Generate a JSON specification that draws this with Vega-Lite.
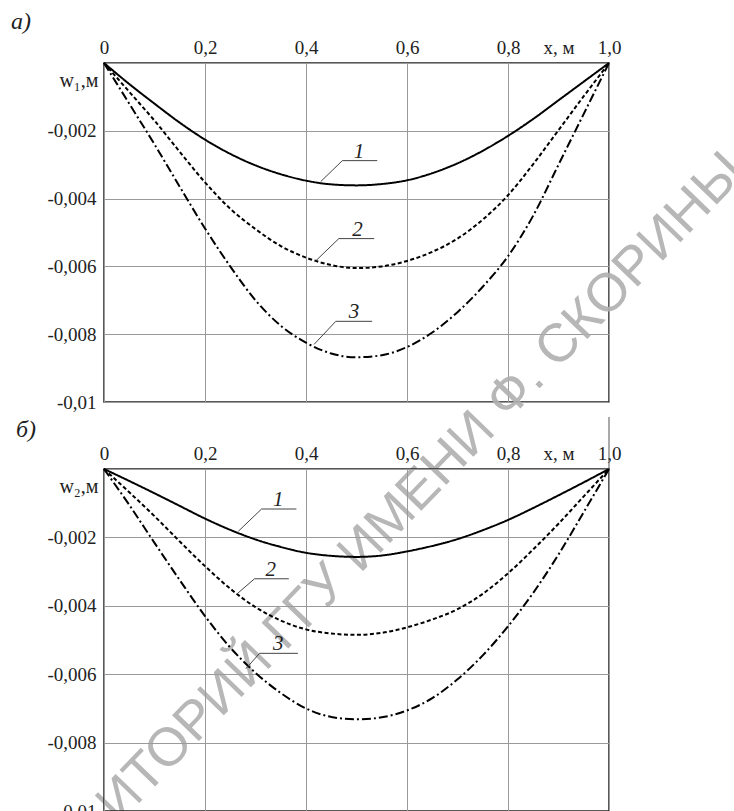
{
  "$schema": "https://vega.github.io/schema/vega-lite/v6.json",
  "padding": {"left": 10, "top": 9, "right": 0, "bottom": 0},
  "background": "white",
  "bounds": "flush",
  "spacing": 67,
  "config": {
    "font": "Liberation Serif",
    "view": {"stroke": "#222", "strokeWidth": 1.5},
    "axis": {
      "labelFont": "Liberation Serif",
      "labelFontSize": 19,
      "labelColor": "#222",
      "ticks": false,
      "domain": false,
      "gridColor": "#9a9a9a",
      "gridWidth": 1,
      "labelFlush": false,
      "labelOverlap": false
    },
    "title": {"font": "Liberation Serif", "fontSize": 24, "fontStyle": "italic", "fontWeight": "normal", "color": "#222"}
  },
  "datasets": {
    "ca": [
      {"c": 1, "x": 0, "w": 0}, {"c": 1, "x": 0.05, "w": -0.00062}, {"c": 1, "x": 0.1, "w": -0.0012}, {"c": 1, "x": 0.15, "w": -0.00176}, {"c": 1, "x": 0.2, "w": -0.00226}, {"c": 1, "x": 0.25, "w": -0.00268}, {"c": 1, "x": 0.3, "w": -0.00302}, {"c": 1, "x": 0.35, "w": -0.00328}, {"c": 1, "x": 0.4, "w": -0.00347}, {"c": 1, "x": 0.45, "w": -0.00358}, {"c": 1, "x": 0.5, "w": -0.00361}, {"c": 1, "x": 0.55, "w": -0.00357}, {"c": 1, "x": 0.6, "w": -0.00346}, {"c": 1, "x": 0.65, "w": -0.00325}, {"c": 1, "x": 0.7, "w": -0.00296}, {"c": 1, "x": 0.75, "w": -0.00259}, {"c": 1, "x": 0.8, "w": -0.00215}, {"c": 1, "x": 0.85, "w": -0.00165}, {"c": 1, "x": 0.9, "w": -0.0011}, {"c": 1, "x": 0.95, "w": -0.00055}, {"c": 1, "x": 1, "w": 0},
      {"c": 2, "x": 0, "w": 0}, {"c": 2, "x": 0.05, "w": -0.00085}, {"c": 2, "x": 0.1, "w": -0.0017}, {"c": 2, "x": 0.15, "w": -0.00262}, {"c": 2, "x": 0.2, "w": -0.00352}, {"c": 2, "x": 0.25, "w": -0.0043}, {"c": 2, "x": 0.3, "w": -0.0049}, {"c": 2, "x": 0.35, "w": -0.0054}, {"c": 2, "x": 0.4, "w": -0.00574}, {"c": 2, "x": 0.45, "w": -0.00596}, {"c": 2, "x": 0.5, "w": -0.00605}, {"c": 2, "x": 0.55, "w": -0.006}, {"c": 2, "x": 0.6, "w": -0.00584}, {"c": 2, "x": 0.65, "w": -0.00557}, {"c": 2, "x": 0.7, "w": -0.00518}, {"c": 2, "x": 0.75, "w": -0.00462}, {"c": 2, "x": 0.8, "w": -0.0039}, {"c": 2, "x": 0.85, "w": -0.00298}, {"c": 2, "x": 0.9, "w": -0.00198}, {"c": 2, "x": 0.95, "w": -0.00098}, {"c": 2, "x": 1, "w": 0},
      {"c": 3, "x": 0, "w": 0}, {"c": 3, "x": 0.05, "w": -0.0012}, {"c": 3, "x": 0.1, "w": -0.0024}, {"c": 3, "x": 0.15, "w": -0.00365}, {"c": 3, "x": 0.2, "w": -0.00488}, {"c": 3, "x": 0.25, "w": -0.006}, {"c": 3, "x": 0.3, "w": -0.007}, {"c": 3, "x": 0.35, "w": -0.00775}, {"c": 3, "x": 0.4, "w": -0.00825}, {"c": 3, "x": 0.45, "w": -0.00857}, {"c": 3, "x": 0.5, "w": -0.00868}, {"c": 3, "x": 0.55, "w": -0.00862}, {"c": 3, "x": 0.6, "w": -0.00838}, {"c": 3, "x": 0.65, "w": -0.00795}, {"c": 3, "x": 0.7, "w": -0.00735}, {"c": 3, "x": 0.75, "w": -0.0066}, {"c": 3, "x": 0.8, "w": -0.0057}, {"c": 3, "x": 0.85, "w": -0.0045}, {"c": 3, "x": 0.9, "w": -0.003}, {"c": 3, "x": 0.95, "w": -0.0015}, {"c": 3, "x": 1, "w": 0}
    ],
    "cb": [
      {"c": 1, "x": 0, "w": 0}, {"c": 1, "x": 0.05, "w": -0.00035}, {"c": 1, "x": 0.1, "w": -0.00071}, {"c": 1, "x": 0.15, "w": -0.00108}, {"c": 1, "x": 0.2, "w": -0.00145}, {"c": 1, "x": 0.25, "w": -0.00178}, {"c": 1, "x": 0.3, "w": -0.00206}, {"c": 1, "x": 0.35, "w": -0.00228}, {"c": 1, "x": 0.4, "w": -0.00245}, {"c": 1, "x": 0.45, "w": -0.00254}, {"c": 1, "x": 0.5, "w": -0.00257}, {"c": 1, "x": 0.55, "w": -0.00253}, {"c": 1, "x": 0.6, "w": -0.00241}, {"c": 1, "x": 0.65, "w": -0.00225}, {"c": 1, "x": 0.7, "w": -0.00205}, {"c": 1, "x": 0.75, "w": -0.00179}, {"c": 1, "x": 0.8, "w": -0.00149}, {"c": 1, "x": 0.85, "w": -0.00114}, {"c": 1, "x": 0.9, "w": -0.00077}, {"c": 1, "x": 0.95, "w": -0.00039}, {"c": 1, "x": 1, "w": 0},
      {"c": 2, "x": 0, "w": 0}, {"c": 2, "x": 0.05, "w": -0.00068}, {"c": 2, "x": 0.1, "w": -0.00138}, {"c": 2, "x": 0.15, "w": -0.00212}, {"c": 2, "x": 0.2, "w": -0.00284}, {"c": 2, "x": 0.25, "w": -0.0035}, {"c": 2, "x": 0.3, "w": -0.00404}, {"c": 2, "x": 0.35, "w": -0.00443}, {"c": 2, "x": 0.4, "w": -0.00469}, {"c": 2, "x": 0.45, "w": -0.00481}, {"c": 2, "x": 0.5, "w": -0.00485}, {"c": 2, "x": 0.55, "w": -0.00479}, {"c": 2, "x": 0.6, "w": -0.00463}, {"c": 2, "x": 0.65, "w": -0.0044}, {"c": 2, "x": 0.7, "w": -0.0041}, {"c": 2, "x": 0.75, "w": -0.00365}, {"c": 2, "x": 0.8, "w": -0.00305}, {"c": 2, "x": 0.85, "w": -0.00235}, {"c": 2, "x": 0.9, "w": -0.0016}, {"c": 2, "x": 0.95, "w": -0.0008}, {"c": 2, "x": 1, "w": 0},
      {"c": 3, "x": 0, "w": 0}, {"c": 3, "x": 0.05, "w": -0.00105}, {"c": 3, "x": 0.1, "w": -0.00216}, {"c": 3, "x": 0.15, "w": -0.00325}, {"c": 3, "x": 0.2, "w": -0.0043}, {"c": 3, "x": 0.25, "w": -0.00522}, {"c": 3, "x": 0.3, "w": -0.00596}, {"c": 3, "x": 0.35, "w": -0.00655}, {"c": 3, "x": 0.4, "w": -0.007}, {"c": 3, "x": 0.45, "w": -0.00725}, {"c": 3, "x": 0.5, "w": -0.00732}, {"c": 3, "x": 0.55, "w": -0.00726}, {"c": 3, "x": 0.6, "w": -0.00706}, {"c": 3, "x": 0.65, "w": -0.0067}, {"c": 3, "x": 0.7, "w": -0.00615}, {"c": 3, "x": 0.75, "w": -0.00545}, {"c": 3, "x": 0.8, "w": -0.0046}, {"c": 3, "x": 0.85, "w": -0.00362}, {"c": 3, "x": 0.9, "w": -0.0025}, {"c": 3, "x": 0.95, "w": -0.00126}, {"c": 3, "x": 1, "w": 0}
    ],
    "la": [
      {"c": 1, "o": 1, "x": 0.429, "w": -0.0035}, {"c": 1, "o": 2, "x": 0.472, "w": -0.00288}, {"c": 1, "o": 3, "x": 0.541, "w": -0.00288},
      {"c": 2, "o": 1, "x": 0.419, "w": -0.00584}, {"c": 2, "o": 2, "x": 0.465, "w": -0.00518}, {"c": 2, "o": 3, "x": 0.535, "w": -0.00518},
      {"c": 3, "o": 1, "x": 0.416, "w": -0.0083}, {"c": 3, "o": 2, "x": 0.459, "w": -0.00762}, {"c": 3, "o": 3, "x": 0.531, "w": -0.00762}
    ],
    "lb": [
      {"c": 1, "o": 1, "x": 0.266, "w": -0.00182}, {"c": 1, "o": 2, "x": 0.312, "w": -0.00117}, {"c": 1, "o": 3, "x": 0.381, "w": -0.00117},
      {"c": 2, "o": 1, "x": 0.262, "w": -0.00367}, {"c": 2, "o": 2, "x": 0.298, "w": -0.00321}, {"c": 2, "o": 3, "x": 0.366, "w": -0.00321},
      {"c": 3, "o": 1, "x": 0.281, "w": -0.00584}, {"c": 3, "o": 2, "x": 0.308, "w": -0.00539}, {"c": 3, "o": 3, "x": 0.384, "w": -0.00539}
    ],
    "ta": [
      {"t": "1", "x": 0.505, "w": -0.00288}, {"t": "2", "x": 0.502, "w": -0.00518}, {"t": "3", "x": 0.495, "w": -0.00762}
    ],
    "tb": [
      {"t": "1", "x": 0.345, "w": -0.00117}, {"t": "2", "x": 0.33, "w": -0.00321}, {"t": "3", "x": 0.345, "w": -0.00539}
    ],
    "wm": [
      {"t": "ИТОРИЙ ГГУ ИМЕНИ Ф. СКОРИНЫ", "x": 0.651, "w": -0.01286}
    ],
    "edge": [
      {"x": 1, "w": 0, "w2": 0.00152}
    ]
  },
  "vconcat": [
    {
      "width": 505,
      "height": 339,
      "title": {"text": "а)", "anchor": "start", "frame": "group", "dx": -93, "offset": 4},
      "encoding": {
        "x": {"field": "x", "type": "quantitative", "scale": {"domain": [0, 1], "nice": false},
          "axis": {"orient": "top", "title": null, "values": [0, 0.2, 0.4, 0.6, 0.8, 0.9, 1], "labelPadding": 6,
            "labelExpr": "datum.value == 0.9 ? 'x, м' : (datum.value == 0 ? '0' : replace(format(datum.value, '.1f'), '.', ','))",
            "gridOpacity": {"condition": {"test": "datum.value == 0.9", "value": 0}, "value": 1}}},
        "y": {"field": "w", "type": "quantitative", "scale": {"domain": [-0.01, 0], "nice": false},
          "axis": {"values": [0, -0.002, -0.004, -0.006, -0.008, -0.01], "labelPadding": 8,
            "labelExpr": "datum.value == 0 ? '' : replace(toString(datum.value), '.', ',')",
            "title": "w₁,м", "titleAngle": 0, "titleAlign": "right", "titleBaseline": "middle", "titleX": -6, "titleY": 17,
            "titleFont": "Liberation Serif", "titleFontSize": 20, "titleFontWeight": "normal", "titleColor": "#222"}}
      },
      "layer": [
        {"data": {"name": "ca"}, "mark": {"type": "line", "color": "black", "strokeWidth": 2, "interpolate": "monotone"},
          "encoding": {"detail": {"field": "c"}, "strokeDash": {"field": "c", "type": "nominal", "legend": null,
            "scale": {"domain": [1, 2, 3], "range": [[1, 0], [4, 2.5], [9, 3, 2, 3]]}}}},
        {"data": {"name": "la"}, "mark": {"type": "line", "color": "#444", "strokeWidth": 1},
          "encoding": {"detail": {"field": "c"}, "order": {"field": "o"}}},
        {"data": {"name": "ta"}, "mark": {"type": "text", "font": "Liberation Serif", "fontSize": 21, "fontStyle": "italic", "baseline": "alphabetic", "dy": -3, "color": "#222"},
          "encoding": {"text": {"field": "t"}}},
        {"data": {"name": "wm"}, "mark": {"type": "text", "font": "Liberation Sans", "fontSize": 54, "angle": -46, "align": "center", "baseline": "alphabetic", "color": "#b0b0b0", "opacity": 0.9},
          "encoding": {"text": {"field": "t"}}}
      ]
    },
    {
      "width": 505,
      "height": 342,
      "title": {"text": "б)", "anchor": "start", "frame": "group", "dx": -88, "dy": 29, "offset": 4},
      "encoding": {
        "x": {"field": "x", "type": "quantitative", "scale": {"domain": [0, 1], "nice": false},
          "axis": {"orient": "top", "title": null, "values": [0, 0.2, 0.4, 0.6, 0.8, 0.9, 1], "labelPadding": 6,
            "labelExpr": "datum.value == 0.9 ? 'x, м' : (datum.value == 0 ? '0' : replace(format(datum.value, '.1f'), '.', ','))",
            "gridOpacity": {"condition": {"test": "datum.value == 0.9", "value": 0}, "value": 1}}},
        "y": {"field": "w", "type": "quantitative", "scale": {"domain": [-0.01, 0], "nice": false},
          "axis": {"values": [0, -0.002, -0.004, -0.006, -0.008, -0.01], "labelPadding": 8,
            "labelExpr": "datum.value == 0 ? '' : replace(toString(datum.value), '.', ',')",
            "title": "w₂,м", "titleAngle": 0, "titleAlign": "right", "titleBaseline": "middle", "titleX": -6, "titleY": 17,
            "titleFont": "Liberation Serif", "titleFontSize": 20, "titleFontWeight": "normal", "titleColor": "#222"}}
      },
      "layer": [
        {"data": {"name": "cb"}, "mark": {"type": "line", "color": "black", "strokeWidth": 2, "interpolate": "monotone"},
          "encoding": {"detail": {"field": "c"}, "strokeDash": {"field": "c", "type": "nominal", "legend": null,
            "scale": {"domain": [1, 2, 3], "range": [[1, 0], [4, 2.5], [9, 3, 2, 3]]}}}},
        {"data": {"name": "lb"}, "mark": {"type": "line", "color": "#444", "strokeWidth": 1},
          "encoding": {"detail": {"field": "c"}, "order": {"field": "o"}}},
        {"data": {"name": "tb"}, "mark": {"type": "text", "font": "Liberation Serif", "fontSize": 21, "fontStyle": "italic", "baseline": "alphabetic", "dy": -3, "color": "#222"},
          "encoding": {"text": {"field": "t"}}},
        {"data": {"name": "edge"}, "mark": {"type": "rule", "color": "#555", "strokeWidth": 1},
          "encoding": {"y2": {"field": "w2"}}}
      ]
    }
  ]
}
